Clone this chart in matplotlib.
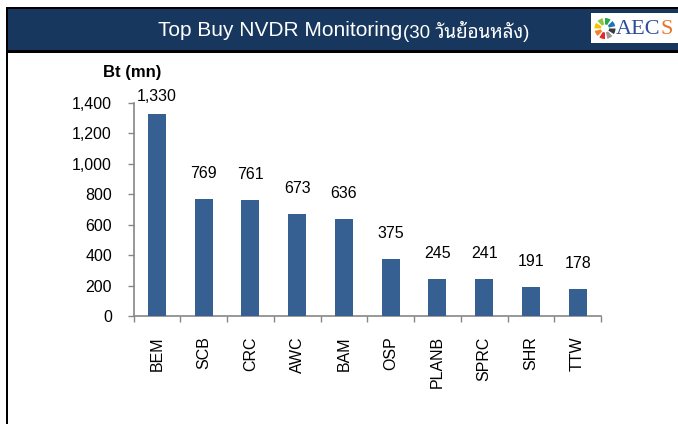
import matplotlib
matplotlib.use('Agg')
import matplotlib.pyplot as plt
from matplotlib.patches import Rectangle, Wedge, Circle
from matplotlib.ticker import FuncFormatter, FixedLocator

# ข้อมูล Top Buy NVDR 30 วันย้อนหลัง (ล้านบาท)
stocks = ['BEM', 'SCB', 'CRC', 'AWC', 'BAM', 'OSP', 'PLANB', 'SPRC', 'SHR', 'TTW']
buy_values = [1330, 769, 761, 673, 636, 375, 245, 241, 191, 178]
y_ticks = [0, 200, 400, 600, 800, 1000, 1200, 1400]

title_main = 'Top Buy NVDR Monitoring'
title_sub = '(30 วันย้อนหลัง)'
unit_label = 'Bt (mn)'

navy = '#17375E'
bar_color = '#376092'
axis_gray = '#868686'
title_fonts = ['Liberation Sans', 'Noto Sans Thai Looped', 'Noto Sans Thai', 'DejaVu Sans']

plt.rcParams['font.family'] = ['Liberation Sans', 'DejaVu Sans']

W, H = 678, 424
fig = plt.figure(figsize=(W / 100, H / 100), dpi=100)

# พื้นหลัง + แถบหัวเรื่อง (พิกัดเป็นพิกเซล)
bg = fig.add_axes([0, 0, 1, 1])
bg.set_xlim(0, W)
bg.set_ylim(H, 0)
bg.axis('off')
bg.add_patch(Rectangle((5.5, 7), W, 45.5, facecolor='black', edgecolor='none'))
bg.add_patch(Rectangle((8, 9.3), W, 40.7, facecolor=navy, edgecolor='none'))
bg.add_patch(Rectangle((5.5, 7), 2.5, H, facecolor='black', edgecolor='none'))

bg.text(402, 30.5, title_main, ha='right', va='center', color='white',
        fontsize=15, family=title_fonts)
bg.text(403, 31.5, title_sub, ha='left', va='center', color='white',
        fontsize=13.5, family=title_fonts)

# โลโก้ AECS
bg.add_patch(Rectangle((591, 13), W - 591, 30, facecolor='white', edgecolor='none'))
cx, cy = 605, 28.5
blade_colors = ['#E8252B', '#F0862A', '#F5C400', '#8CC63F', '#2AA84A',
                '#1B75BB', '#3B3B3B', '#9A9A9A']
for i, c in enumerate(blade_colors):
    a0 = 90 + i * 45
    bg.add_patch(Wedge((cx, cy), 10.5, a0, a0 + 32, width=6.5,
                       facecolor=c, edgecolor='none'))
bg.add_patch(Circle((cx, cy), 3.5, facecolor='white', edgecolor='none'))
t = bg.text(616, 29, 'AEC', ha='left', va='center', color='#2E4D9B',
            fontsize=16, family=['Liberation Serif', 'DejaVu Serif'])
fig.canvas.draw()
bb = t.get_window_extent()
bg.text(bb.x1, 29, 'S', ha='left', va='center', color='#E8762C',
        fontsize=16, family=['Liberation Serif', 'DejaVu Serif'],
        transform=matplotlib.transforms.blended_transform_factory(
            matplotlib.transforms.IdentityTransform(), bg.transData))

# กราฟแท่ง
ax = fig.add_axes([133.5 / W, 1 - 316 / H, (601 - 133.5) / W, (316 - 103) / H])
ax.set_facecolor('none')
x = list(range(len(stocks)))
ax.bar(x, buy_values, width=0.39, color=bar_color, zorder=3)
# ป้ายค่าเหนือแท่ง (แท่งสูงสุดถูกดันลงให้อยู่ในกรอบ)
gap = 138
for xi, v in zip(x, buy_values):
    ax.text(xi, min(v + gap, 1415), f'{v:,}', ha='center', va='baseline',
            fontsize=11.5, clip_on=False)

ax.set_xlim(-0.5, len(stocks) - 0.5)
ax.set_ylim(0, 1400)
ax.set_yticks(y_ticks)
ax.yaxis.set_major_formatter(FuncFormatter(lambda v, p: f'{v:,.0f}'))
ax.set_xticks(x)
ax.set_xticklabels(stocks, rotation=90)
ax.xaxis.set_minor_locator(FixedLocator([i - 0.5 for i in range(len(stocks) + 1)]))
ax.tick_params(axis='x', which='major', length=0, pad=14.5, labelsize=11.5)
ax.tick_params(axis='x', which='minor', length=4, width=1, color=axis_gray)
ax.tick_params(axis='y', length=4, width=1, color=axis_gray, pad=11.5, labelsize=11.5)
for s in ['top', 'right']:
    ax.spines[s].set_visible(False)
for s in ['left', 'bottom']:
    ax.spines[s].set_color(axis_gray)
    ax.spines[s].set_linewidth(1.2)

bg.text(132, 73, unit_label, ha='center', va='center', fontsize=12,
        fontweight='bold')

fig.savefig('out.png', dpi=100)
